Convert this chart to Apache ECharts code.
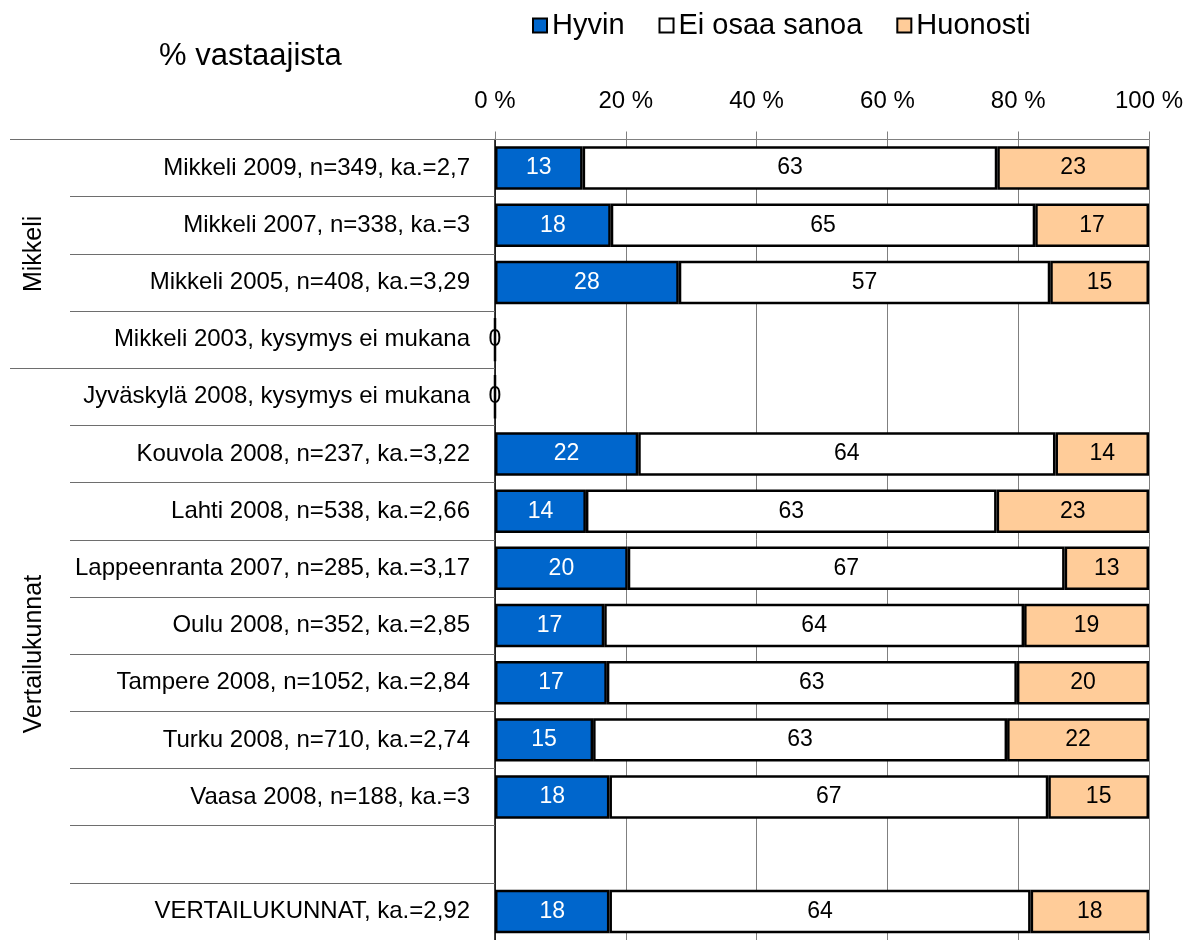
<!DOCTYPE html>
<html>
<head>
<meta charset="utf-8">
<script src="https://cdn.jsdelivr.net/npm/echarts@6/dist/echarts.min.js"></script>
<style>
  html, body { margin: 0; background: #fff; }
  #chart { width: 1197px; height: 940px; }
</style>
</head>
<body>
<div id="chart"></div>
<script>
// rivit ylhäältä alas
const categories = [
  'Mikkeli 2009, n=349, ka.=2,7',
  'Mikkeli 2007, n=338, ka.=3',
  'Mikkeli 2005, n=408, ka.=3,29',
  'Mikkeli 2003, kysymys ei mukana',
  'Jyväskylä 2008, kysymys ei mukana',
  'Kouvola 2008, n=237, ka.=3,22',
  'Lahti 2008, n=538, ka.=2,66',
  'Lappeenranta 2007, n=285, ka.=3,17',
  'Oulu 2008, n=352, ka.=2,85',
  'Tampere 2008, n=1052, ka.=2,84',
  'Turku 2008, n=710, ka.=2,74',
  'Vaasa 2008, n=188, ka.=3',
  '',
  'VERTAILUKUNNAT, ka.=2,92'
]
const hyvin    = [13.4, 17.7, 28.1, 0, 0, 21.9, 13.9, 20.3, 16.7, 17.1, 15.0, 17.5, null, 17.5]
const eiOsaa   = [63.4, 64.9, 56.8, null, null, 63.8, 62.8, 66.8, 64.2, 62.7, 63.3, 67.1, null, 64.4]
const huonosti = [23.2, 17.4, 15.1, null, null, 14.3, 23.3, 12.9, 19.1, 20.2, 21.7, 15.4, null, 18.1]

const seriesNames = ['Hyvin', 'Ei osaa sanoa', 'Huonosti']
const xTicks = [0, 20, 40, 60, 80, 100]

// ryhmät vasemmalla: alkurivi ja keskikohta
const groupNames = ['Mikkeli', 'Vertailukunnat']
const groupStarts = [0, 4, 14]
const groupMids = [2, 9]

const FONT = '"Liberation Sans", Arial, sans-serif'

const chart = echarts.init(document.getElementById('chart'))

function barSeries(name, values, color, textColor) {
  return {
    name: name,
    type: 'bar',
    stack: 'total',
    yAxisIndex: 0,
    barCategoryGap: '24%',
    itemStyle: { color: color, borderColor: '#000', borderWidth: 2.5 },
    label: {
      show: true,
      position: 'inside',
      color: textColor,
      fontFamily: FONT,
      fontSize: 23,
      formatter: p => Math.round(p.value)
    },
    data: values.map(v => v === 0 ? { value: 0, label: { color: '#000' } } : v),
    animation: false
  }
}

chart.setOption({
  backgroundColor: '#fff',
  textStyle: { fontFamily: FONT },
  title: {
    text: '% vastaajista',
    left: 154,
    top: 36,
    textStyle: { fontFamily: FONT, fontSize: 31, fontWeight: 'normal', color: '#000' }
  },
  legend: {
    left: 527,
    top: 6,
    icon: 'rect',
    itemWidth: 14,
    itemHeight: 14,
    itemGap: 34,
    textStyle: { fontFamily: FONT, fontSize: 29, color: '#000' },
    data: seriesNames
  },
  grid: { left: 495, right: 48, top: 139.5, bottom: 0 },
  xAxis: {
    type: 'value',
    position: 'top',
    min: 0,
    max: 100,
    interval: 20,
    axisLine: { show: true, lineStyle: { color: '#808080', width: 1 } },
    axisTick: { show: true, length: 8, lineStyle: { color: '#808080' } },
    axisLabel: {
      color: '#000',
      fontFamily: FONT,
      fontSize: 24,
      margin: 26,
      formatter: v => xTicks.indexOf(v) >= 0 ? v + ' %' : ''
    },
    splitLine: { show: true, lineStyle: { color: '#808080', width: 1 } }
  },
  yAxis: [
    {
      type: 'category',
      inverse: true,
      data: categories,
      axisLine: { show: true, lineStyle: { color: '#000', width: 1.5 } },
      axisTick: { show: true, length: 425, lineStyle: { color: '#6e6e6e', width: 1 } },
      axisLabel: { color: '#000', fontFamily: FONT, fontSize: 24, margin: 25 },
      splitLine: { show: false }
    },
    {
      type: 'value',
      inverse: true,
      min: 0,
      max: 14,
      position: 'left',
      axisLine: { show: false },
      axisTick: {
        show: true,
        length: 485,
        customValues: groupStarts,
        lineStyle: { color: '#6e6e6e', width: 1 }
      },
      axisLabel: {
        show: true,
        rotate: 90,
        margin: 448,
        color: '#000',
        fontFamily: FONT,
        fontSize: 25,
        customValues: groupMids,
        formatter: v => groupNames[groupMids.indexOf(v)] || ''
      },
      splitLine: { show: false }
    }
  ],
  series: [
    barSeries(seriesNames[0], hyvin, '#0066cc', '#fff'),
    barSeries(seriesNames[1], eiOsaa, '#ffffff', '#000'),
    barSeries(seriesNames[2], huonosti, '#ffcc99', '#000')
  ]
})
</script>
</body>
</html>
